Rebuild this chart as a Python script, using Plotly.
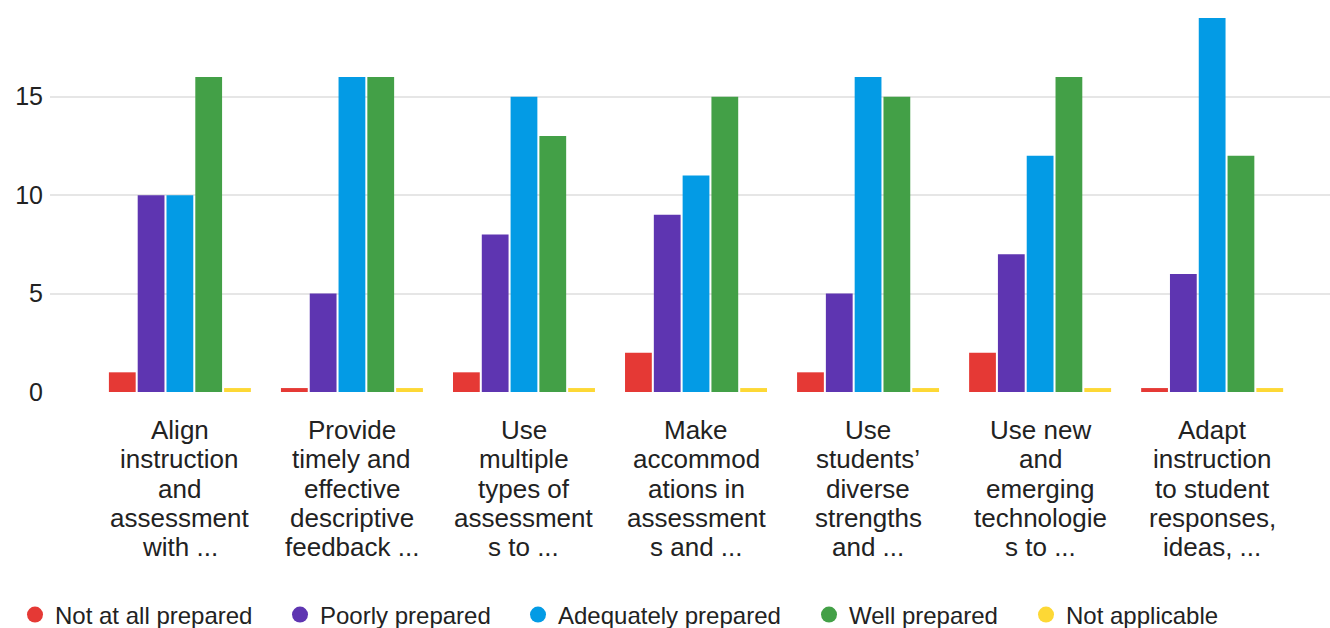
import plotly.graph_objects as go
import numpy as np

categories = [
    "Align instruction and assessment with ...",
    "Provide timely and effective descriptive feedback ...",
    "Use multiple types of assessments to ...",
    "Make accommodations in assessments and ...",
    "Use students’ diverse strengths and ...",
    "Use new and emerging technologies to ...",
    "Adapt instruction to student responses, ideas, ...",
]
label_lines = [
    ["Align", "instruction", "and", "assessment", "with ..."],
    ["Provide", "timely and", "effective", "descriptive", "feedback ..."],
    ["Use", "multiple", "types of", "assessment", "s to ..."],
    ["Make", "accommod", "ations in", "assessment", "s and ..."],
    ["Use", "students’", "diverse", "strengths", "and ..."],
    ["Use new", "and", "emerging", "technologie", "s to ..."],
    ["Adapt", "instruction", "to student", "responses,", "ideas, ..."],
]
series_names = ["Not at all prepared", "Poorly prepared", "Adequately prepared",
                "Well prepared", "Not applicable"]
not_at_all = [1, 0, 1, 2, 1, 2, 0]
poorly = [10, 5, 8, 9, 5, 7, 6]
adequately = [10, 16, 15, 11, 16, 12, 19]
well = [16, 16, 13, 15, 15, 16, 12]
not_applicable = [0, 0, 0, 0, 0, 0, 0]
y_ticks = [0, 5, 10, 15]

colors = ["#e53935", "#5e35b1", "#039be5", "#43a047", "#fdd835"]
series_values = [not_at_all, poorly, adequately, well, not_applicable]
legend_text_x = [55, 320, 558, 849, 1066]  # pixel x where each legend label starts

FONT = "Liberation Sans, Arial, sans-serif"
fig = go.Figure()
for name, vals, col in zip(series_names, series_values, colors):
    vals = np.array(vals, dtype=float)
    shown = np.maximum(vals, 0.2)  # zero values drawn as a thin stub
    fig.add_trace(go.Bar(
        x=categories, y=shown, name=name, marker=dict(color=col, line=dict(width=0)),
        customdata=vals, hovertemplate="%{x}<br>" + name + ": %{customdata}<extra></extra>",
        showlegend=False, legendgroup=name,
    ))

legend_layouts = {}
for j, (name, col) in enumerate(zip(series_names, colors)):
    lg = "legend" if j == 0 else f"legend{j + 1}"
    fig.add_trace(go.Scatter(
        x=[None], y=[None], mode="markers", name=name, legendgroup=name, legend=lg,
        marker=dict(color=col, size=20, symbol="circle"), showlegend=True,
    ))
    legend_layouts[lg] = dict(
        orientation="h", xref="container", yref="container",
        x=(legend_text_x[j] - 40) / 1330, y=(628 - 615) / 628,
        xanchor="left", yanchor="middle",
        font=dict(family=FONT, size=24, color="#222222"),
        itemsizing="trace", bgcolor="rgba(0,0,0,0)", borderwidth=0,
    )

annotations = []
for i, lines in enumerate(label_lines):
    for k, line in enumerate(lines):
        annotations.append(dict(
            x=categories[i], xref="x", y=0, yref="paper",
            yshift=-(38 + k * 29.3), yanchor="middle", xanchor="center",
            text=line, showarrow=False,
            font=dict(family=FONT, size=26, color="#222222"),
        ))

fig.update_layout(
    width=1330, height=628,
    margin=dict(l=50, r=0, t=18, b=236),
    paper_bgcolor="white", plot_bgcolor="white",
    barmode="group", bargap=0.163, bargroupgap=0.07,
    font=dict(family=FONT, color="#222222"),
    xaxis=dict(type="category", range=[-0.755, 6.685], showticklabels=False,
               showgrid=False, zeroline=False, showline=False, ticks=""),
    yaxis=dict(range=[0, 19], tickvals=y_ticks, ticktext=[str(v) for v in y_ticks],
               tickfont=dict(family=FONT, size=25, color="#222222"),
               showgrid=True, gridcolor="#e6e6e6", gridwidth=2,
               zeroline=False, showline=False, ticks="", ticklabelstandoff=6),
    annotations=annotations,
    showlegend=True,
    **legend_layouts,
)

fig.write_html("out.html")
